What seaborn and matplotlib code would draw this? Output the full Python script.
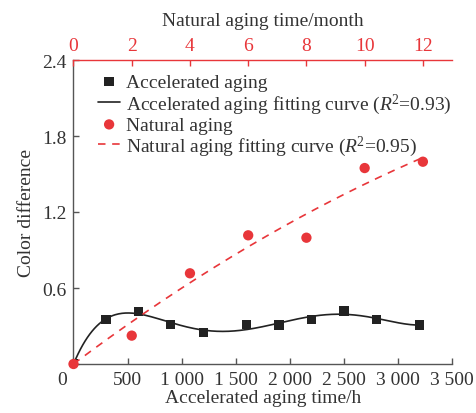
import matplotlib
matplotlib.use("Agg")
import matplotlib.pyplot as plt
import seaborn as sns
import numpy as np
import pandas as pd
from matplotlib.ticker import FuncFormatter

# accelerated aging (hours, color difference)
acc_hours = [0, 300, 600, 900, 1200, 1600, 1900, 2200, 2500, 2800, 3200]
acc_diff = [0.0, 0.35, 0.415, 0.313, 0.25, 0.313, 0.308, 0.35, 0.418, 0.353, 0.308]

# natural aging (months, color difference)
nat_months = [0, 2, 4, 6, 8, 10, 12]
nat_diff = [0.0, 0.224, 0.716, 1.016, 0.997, 1.547, 1.597]

RED = "#e8363a"
DARK = "#222222"
GREY = "#555555"

sns.set_style("ticks")
plt.rcParams["font.family"] = ["Liberation Serif", "DejaVu Serif"]
plt.rcParams["mathtext.fontset"] = "custom"
plt.rcParams["mathtext.it"] = "Liberation Serif:italic"
plt.rcParams["mathtext.rm"] = "Liberation Serif"
FS = 14

acc = pd.DataFrame({"h": acc_hours, "d": acc_diff})
nat = pd.DataFrame({"m": nat_months, "d": nat_diff})

# fitting curves computed from the data
p_acc = np.polyfit(acc["h"], acc["d"], 5)
xa = np.linspace(0, 3200, 300)
fit_acc = pd.DataFrame({"h": xa, "d": np.polyval(p_acc, xa)})

A = np.column_stack([nat["m"], nat["m"] ** 2])
coef, *_ = np.linalg.lstsq(A, nat["d"], rcond=None)
xn = np.linspace(0, 12, 200)
fit_nat = pd.DataFrame({"m": xn, "d": coef[0] * xn + coef[1] * xn ** 2})

fig = plt.figure(figsize=(4.77, 4.14), dpi=100)
ax = fig.add_axes([73.5 / 477, 49 / 414, (452 - 73.5) / 477, (365 - 61) / 414])
ax2 = ax.twiny()

sns.lineplot(data=fit_acc, x="h", y="d", ax=ax, color=DARK, lw=1.2, zorder=2,
             label="Accelerated aging fitting curve ($R$$^2$=0.93)")
sns.scatterplot(data=acc, x="h", y="d", ax=ax, marker="s", s=45, color=DARK,
                edgecolor="none", zorder=3, label="Accelerated aging")
sns.lineplot(data=fit_nat, x="m", y="d", ax=ax2, color=RED, lw=1.2, zorder=2,
             dashes=False, linestyle=(0, (4.5, 4)),
             label="Natural aging fitting curve ($R$$^2$=0.95)")
sns.scatterplot(data=nat, x="m", y="d", ax=ax2, marker="o", s=55, color=RED,
                edgecolor="none", zorder=4, label="Natural aging", clip_on=False)

ax.set_xlim(0, 3500)
ax.set_ylim(0, 2.4)
ax2.set_xlim(0, 13)
ax2.set_ylim(0, 2.4)

ax.set_xticks(np.arange(0, 3501, 500))
ax.xaxis.set_major_formatter(FuncFormatter(
    lambda v, p: "" if v == 0 else f"{int(v):,}".replace(",", " ")))
ax.set_yticks([0, 0.6, 1.2, 1.8, 2.4])
ax.yaxis.set_major_formatter(FuncFormatter(lambda v, p: "" if v == 0 else f"{v:.1f}"))
ax2.set_xticks(np.arange(0, 13, 2))

ax.tick_params(direction="in", length=4, width=1, colors=GREY, labelcolor="#333333",
               labelsize=FS, pad=5)
ax2.tick_params(axis="x", direction="in", length=4, width=1, colors=RED,
                labelcolor=RED, labelsize=FS, pad=4)

for s in ["left", "bottom"]:
    ax.spines[s].set_color(GREY)
    ax.spines[s].set_linewidth(1)
ax.spines["right"].set_visible(False)
ax.spines["top"].set_visible(False)
ax2.spines["right"].set_visible(False)
ax2.spines["left"].set_visible(False)
ax2.spines["bottom"].set_visible(False)
ax2.spines["top"].set_color(RED)
ax2.spines["top"].set_linewidth(1)

ax.set_xlabel("Accelerated aging time/h", fontsize=FS, color="#333333", labelpad=1)
ax.set_ylabel("Color difference", fontsize=FS, color="#333333", labelpad=5)
ax2.set_xlabel("Natural aging time/month", fontsize=FS, color="#333333", labelpad=9)
ax.text(-0.03, -0.05, "0", transform=ax.transAxes, fontsize=FS, color="#333333",
        ha="center", va="center")

h1, l1 = ax.get_legend_handles_labels()
h2, l2 = ax2.get_legend_handles_labels()
handles = [h1[1], h1[0], h2[1], h2[0]]
labels = [l1[1], l1[0], l2[1], l2[0]]
if ax.get_legend():
    ax.get_legend().remove()
if ax2.get_legend():
    ax2.get_legend().remove()
ax2.legend(handles, labels, loc="upper left", bbox_to_anchor=(0.035, 0.995), frameon=False,
           fontsize=FS, handlelength=1.1, handletextpad=0.3, labelspacing=0.02,
           borderaxespad=0.2, labelcolor="#333333")

fig.savefig("out.png", dpi=100)
